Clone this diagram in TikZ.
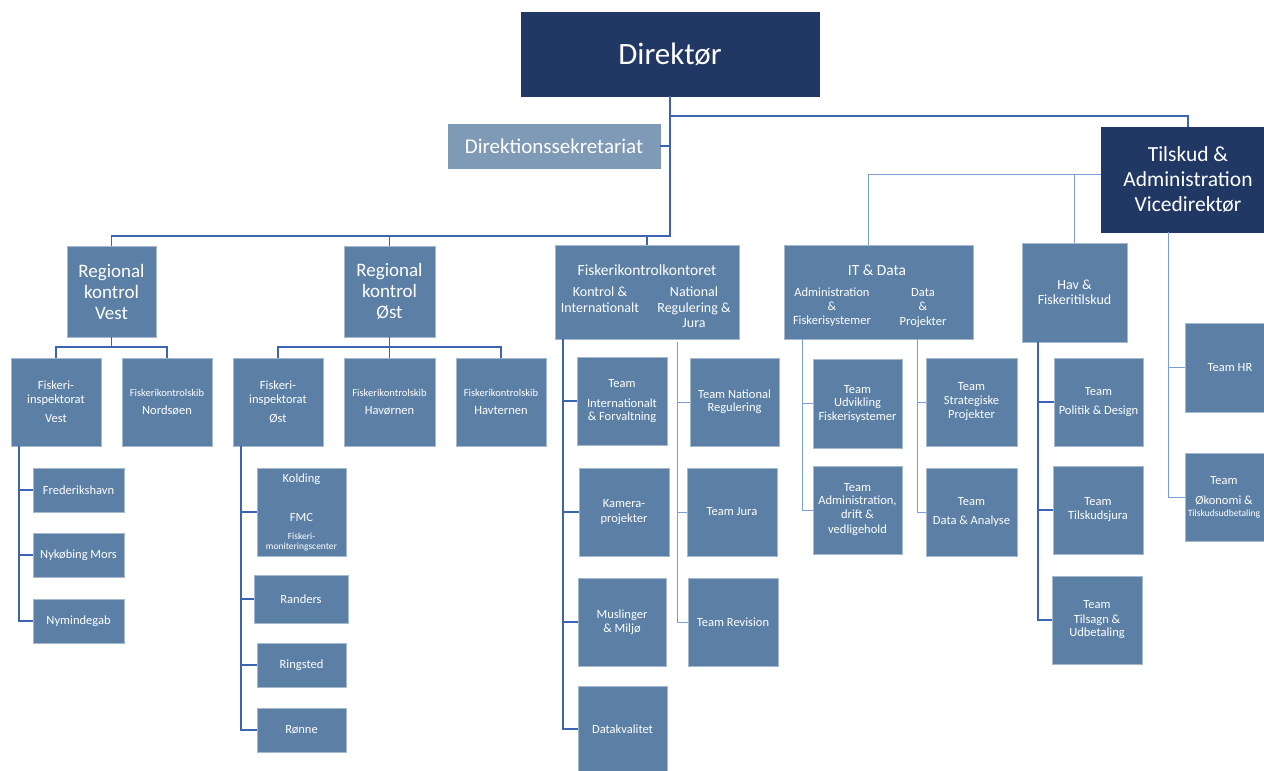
\documentclass[tikz,border=0pt]{standalone}
\usepackage{fontspec}
\setmainfont{Carlito}
\definecolor{navyc}{HTML}{213864}
\definecolor{boxc}{HTML}{5B7FA5}
\definecolor{sekc}{HTML}{7E9AB6}
\definecolor{linec}{HTML}{3D64B0}
\definecolor{lightc}{HTML}{7B9ED6}
\tikzset{
  box/.style={draw=boxc!55!white, line width=0.6pt, fill=boxc, text=white, inner sep=0pt, align=center},
  navybox/.style={box, fill=navyc, draw=navyc},
  txt/.style={text=white, inner sep=0pt, align=center},
  ln/.style={draw=linec, line width=1.6pt},
  lnl/.style={draw=lightc, line width=1pt},
  fs/.style n args={2}{font=\fontsize{#1}{#2}\selectfont},
  sz/.style n args={2}{minimum width=#1, minimum height=#2},
}
\begin{document}
\begin{tikzpicture}[x=1pt,y=-1pt]
\useasboundingbox (0,0) rectangle (1264,771);
\fill[white] (0,0) rectangle (1264,771);

% top level
\node[navybox, sz={298pt}{84pt}, fs={31}{36}] (dir) at (670,54) {Direktør};
\node[box, fill=sekc, draw=sekc, sz={212pt}{44pt}, fs={21}{24}] (sek) at (554,146) {Direktionssekretariat};
\node[navybox, sz={174pt}{105pt}, fs={21.5}{25}] (tilsk) at (1188,179.5) {Tilskud \&\\Administration\\Vicedirektør};

% second level
\node[box, sz={89pt}{91pt}, fs={19}{21}] (rvest) at (111.5,291.5) {Regional\\kontrol\\Vest};
\node[box, sz={91pt}{91pt}, fs={19}{21}] (rost) at (389.5,291.5) {Regional\\kontrol\\Øst};

\node[box, sz={184pt}{94pt}] (fkk) at (647,292) {};
\node[txt, fs={15.5}{18}] (fkkT) at (647,270) {Fiskerikontrolkontoret};
\node[txt, fs={14}{16}] (fkkL) at (600,300) {Kontrol \&\\Internationalt};
\node[txt, fs={14}{15.5}] (fkkR) at (694,307.5) {National\\Regulering \&\\Jura};

\node[box, sz={189pt}{94pt}] (itd) at (878.5,292) {};
\node[txt, fs={15.5}{18}] (itdT) at (877,270) {IT \& Data};
\node[txt, fs={12.5}{14}] (itdL) at (832,307) {Administration\\\&\\Fiskerisystemer};
\node[txt, fs={12.5}{14.5}] (itdR) at (923,308) {Data\\\&\\Projekter};

\node[box, sz={105pt}{99pt}, fs={14}{15}] (hav) at (1074.5,292.5) {Hav \&\\Fiskeritilskud};

% regional children
\node[box, sz={90pt}{88pt}, fs={12.5}{14}] (fiv) at (56,402) {Fiskeri-\\inspektorat\\[5pt]Vest};
\node[box, sz={90pt}{88pt}, fs={12.5}{14}] (nord) at (167,402) {{\fontsize{10.5}{12}\selectfont Fiskerikontrolskib}\\[4pt]Nordsøen};
\node[box, sz={90pt}{88pt}, fs={12.5}{14}] (fio) at (278,402) {Fiskeri-\\inspektorat\\[5pt]Øst};
\node[box, sz={91pt}{88pt}, fs={12.5}{14}] (havo) at (389.5,402) {{\fontsize{10.5}{12}\selectfont Fiskerikontrolskib}\\[4pt]Havørnen};
\node[box, sz={90pt}{88pt}, fs={12.5}{14}] (havt) at (501,402) {{\fontsize{10.5}{12}\selectfont Fiskerikontrolskib}\\[4pt]Havternen};

% vest sub
\node[box, sz={91pt}{44pt}, fs={12.5}{14}] (fred) at (78.5,490) {Frederikshavn};
\node[box, sz={91pt}{44pt}, fs={12.5}{14}] (nyk) at (78.5,555) {Nykøbing Mors};
\node[box, sz={91pt}{44pt}, fs={12.5}{14}] (nym) at (78.5,621) {Nymindegab};

% øst sub
\node[box, sz={89pt}{88pt}, fs={12.5}{14}] (kold) at (301.5,512) {Kolding\\[25pt]FMC\\[4pt]{\fontsize{9.5}{10}\selectfont Fiskeri-}\\[-4pt]{\fontsize{9.5}{10}\selectfont moniteringscenter}};
\node[box, sz={94pt}{48pt}, fs={12.5}{14}] (rand) at (301,599) {Randers};
\node[box, sz={89pt}{44pt}, fs={12.5}{14}] (ring) at (301.5,665) {Ringsted};
\node[box, sz={89pt}{44pt}, fs={12.5}{14}] (ronne) at (301.5,730) {Rønne};

% fiskerikontrolkontoret teams
\node[box, sz={90pt}{88pt}, fs={12.5}{14}] (tint) at (622,401) {Team\\[6pt]Internationalt\\[-1pt]\& Forvaltning};
\node[box, sz={90pt}{88pt}, fs={12.5}{14}] (kam) at (624,512) {Kamera-\\[1pt]projekter};
\node[box, sz={88pt}{88pt}, fs={12.5}{14}] (mus) at (622,622) {Muslinger\\\& Miljø};
\node[box, sz={89pt}{86pt}, fs={12.5}{14}] (datak) at (622.5,729) {Datakvalitet};
\node[box, sz={89pt}{88pt}, fs={12.5}{14}] (tnat) at (734.5,402) {Team National\\[-1pt]Regulering};
\node[box, sz={90pt}{88pt}, fs={12.5}{14}] (tjura) at (732,512) {Team Jura};
\node[box, sz={90pt}{88pt}, fs={12.5}{14}] (trev) at (733,622) {Team Revision};

% IT teams
\node[box, sz={89pt}{89pt}, fs={12.5}{14}] (tudv) at (857.5,403.5) {Team\\[-1pt]Udvikling\\Fiskerisystemer};
\node[box, sz={89pt}{88pt}, fs={12.5}{14}] (tadm) at (857.5,510) {Team\\[-1pt]Administration,\\drift \&\\[1pt]vedligehold};
\node[box, sz={91pt}{88pt}, fs={12.5}{14}] (tstrat) at (971.5,402) {Team\\Strategiske\\Projekter};
\node[box, sz={91pt}{88pt}, fs={12.5}{14}] (tdata) at (971.5,512) {Team\\[5pt]Data \& Analyse};

% Hav teams
\node[box, sz={89pt}{88pt}, fs={12.5}{14}] (tpol) at (1098.5,402) {Team\\[5pt]Politik \& Design};
\node[box, sz={90pt}{88pt}, fs={12.5}{14}] (tskj) at (1098,510) {Team\\Tilskudsjura};
\node[box, sz={90pt}{88pt}, fs={12.5}{14}] (ttils) at (1097,620) {Team\\[1pt]Tilsagn \&\\[-1pt]Udbetaling};

% Tilskud teams
\node[box, sz={90pt}{89pt}, fs={12.5}{14}] (thr) at (1230,367.5) {Team HR};
\node[box, sz={90pt}{88pt}] (toek) at (1230,497) {};
\node[txt, fs={12.5}{14}] (toekT) at (1224,497) {Team\\[6pt]Økonomi \&\\[-2pt]{\fontsize{9.6}{12}\selectfont Tilskudsudbetaling}};

% connectors: director
\coordinate (j0) at (670,116);
\coordinate (j1) at (670,236);
\draw[ln] (dir.south) -- (j1) -| (rvest.north);
\draw[ln] (j1) -| (rost.north);
\draw[ln] (j1) -| (fkk.north);
\draw[ln] (sek.east) -- (sek.east -| j1);
\draw[ln] (j0) -| (tilsk.north);

% connectors: tilskud
\coordinate (t1) at (1101,174);
\coordinate (itdtop) at (868,245);
\coordinate (t2) at (1168,232);
\draw[lnl] (t1) -| (itdtop);
\draw[lnl] (t1) -| (hav.north);
\draw[lnl] (t2) |- (thr.west);
\draw[lnl] (t2) |- (toek.west);

% regional
\coordinate (v1) at (111.5,347);
\draw[ln] (rvest.south) -- (v1);
\draw[ln] (fiv.north) |- (v1) -| (nord.north);
\coordinate (o1) at (389.5,347);
\draw[ln] (rost.south) -- (o1) -- (havo.north);
\draw[ln] (fio.north) |- (o1) -| (havt.north);

% sub lists
\coordinate (vs) at (19,446);
\foreach \n in {fred,nyk,nym} \draw[ln] (vs) |- (\n.west);
\coordinate (os) at (241,446);
\foreach \n in {kold,rand,ring,ronne} \draw[ln] (os) |- (\n.west);
\coordinate (fl) at (563,339);
\foreach \n in {tint,kam,mus,datak} \draw[ln] (fl) |- (\n.west);
\coordinate (fr) at (677,342);
\foreach \n in {tnat,tjura,trev} \draw[lnl] (fr) |- (\n.west);
\coordinate (il) at (802,339);
\foreach \n in {tudv,tadm} \draw[lnl] (il) |- (\n.west);
\coordinate (ir) at (917,339);
\foreach \n in {tstrat,tdata} \draw[lnl] (ir) |- (\n.west);
\coordinate (hl) at (1038,342);
\foreach \n in {tpol,tskj,ttils} \draw[ln] (hl) |- (\n.west);
\end{tikzpicture}
\end{document}
